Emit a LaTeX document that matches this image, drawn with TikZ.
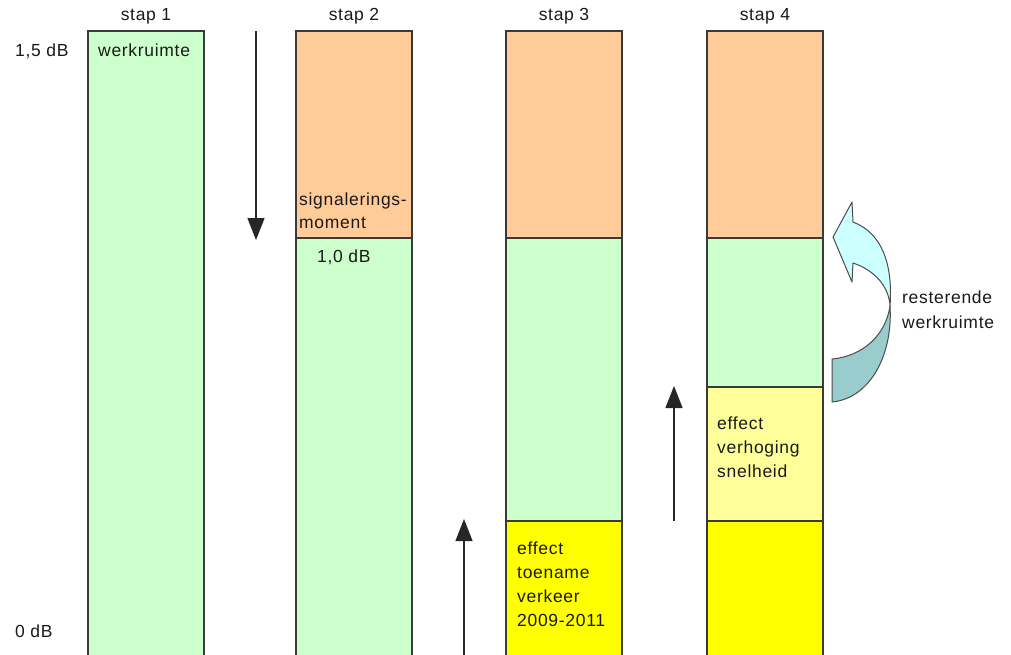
\documentclass[tikz,border=0pt]{standalone}
\usepackage{fontspec}
\setmainfont{Liberation Sans}[LetterSpace=4]
\usetikzlibrary{arrows.meta}
\definecolor{bgreen}{HTML}{CCFFCC}
\definecolor{borange}{HTML}{FFCC99}
\definecolor{byellow}{HTML}{FFFF00}
\definecolor{blyellow}{HTML}{FFFF99}
\definecolor{bline}{HTML}{3A3A3A}
\definecolor{arrlight}{HTML}{CCFFFF}
\definecolor{arrdark}{HTML}{99CCCC}
\definecolor{txt}{HTML}{1A1A1A}
\begin{document}
\begin{tikzpicture}[x=1pt,y=-1pt,
  seg/.style={draw=bline,line width=1.3pt},
  lbl/.style={anchor=base west,inner sep=0pt,text=txt,font=\fontsize{17.5}{24}\selectfont},
  ttl/.style={anchor=base,inner sep=0pt,text=txt,font=\fontsize{17.5}{24}\selectfont},
  vecarrow/.style={draw=black!85,line width=1.3pt,-{Triangle[width=17pt,length=22pt]}},
  bent/.style={draw=black!70,line width=1pt,line join=round}]
\useasboundingbox (0,0) rectangle (1011,654);
\fill[white] (0,0) rectangle (1011,654);
\begin{scope}
\clip (0,0) rectangle (1011,654);
% bar 1
\path[seg,fill=bgreen] (88,31) rectangle (204,660);
% bar 2
\path[seg,fill=borange] (296,31) rectangle (412,238);
\path[seg,fill=bgreen] (296,238) rectangle (412,660);
% bar 3
\path[seg,fill=borange] (506,31) rectangle (622,238);
\path[seg,fill=bgreen] (506,238) rectangle (622,521);
\path[seg,fill=byellow] (506,521) rectangle (622,660);
% bar 4
\path[seg,fill=borange] (707,31) rectangle (823,238);
\path[seg,fill=bgreen] (707,238) rectangle (823,387);
\path[seg,fill=blyellow] (707,387) rectangle (823,521);
\path[seg,fill=byellow] (707,521) rectangle (823,660);
\end{scope}

% titles
\node[ttl] (t1) at (146,20) {stap 1};
\node[ttl] (t2) at (354,20) {stap 2};
\node[ttl] (t3) at (564,20) {stap 3};
\node[ttl] (t4) at (765,20) {stap 4};

% axis labels
\node[lbl] (l15) at (15,56) {1,5 dB};
\node[lbl] (l0) at (15,637) {0 dB};

% texts in bars
\node[lbl] (wr) at (98,56) {werkruimte};
\node[lbl] (sig1) at (299,205) {signalerings-};
\node[lbl] (sig2) at (299,228) {moment};
\node[lbl] (l10) at (317,262) {1,0 dB};
\node[lbl] (e1) at (517,554) {effect};
\node[lbl] (e2) at (517,578) {toename};
\node[lbl] (e3) at (517,602) {verkeer};
\node[lbl] (e4) at (517,626) {2009-2011};
\node[lbl] (v1) at (717,429) {effect};
\node[lbl] (v2) at (717,453) {verhoging};
\node[lbl] (v3) at (717,477) {snelheid};
\node[lbl] (r1) at (902,303) {resterende};
\node[lbl] (r2) at (902,328) {werkruimte};

% straight arrows
\coordinate (a1s) at (256,31);
\coordinate (a1e) at (256,240);
\coordinate (a2s) at (464,656);
\coordinate (a2e) at (464,519);
\coordinate (a3s) at (674,521);
\coordinate (a3e) at (674,386);
\draw[vecarrow] (a1s) -- (a1e);
\draw[vecarrow] (a2s) -- (a2e);
\draw[vecarrow] (a3s) -- (a3e);

% curved arrow
\path[bent,fill=arrdark] (890,306) .. controls (886,334) and (864,356) .. (832,359)
  -- (832,402) .. controls (872,398) and (893,352) .. (890,306) -- cycle;
\path[bent,fill=arrlight] (852,202) -- (833,237) -- (852,282) -- (853,263)
  .. controls (874,270) and (889,286) .. (890,306)
  .. controls (893,264) and (882,233) .. (853,222) -- cycle;
\end{tikzpicture}
\end{document}
